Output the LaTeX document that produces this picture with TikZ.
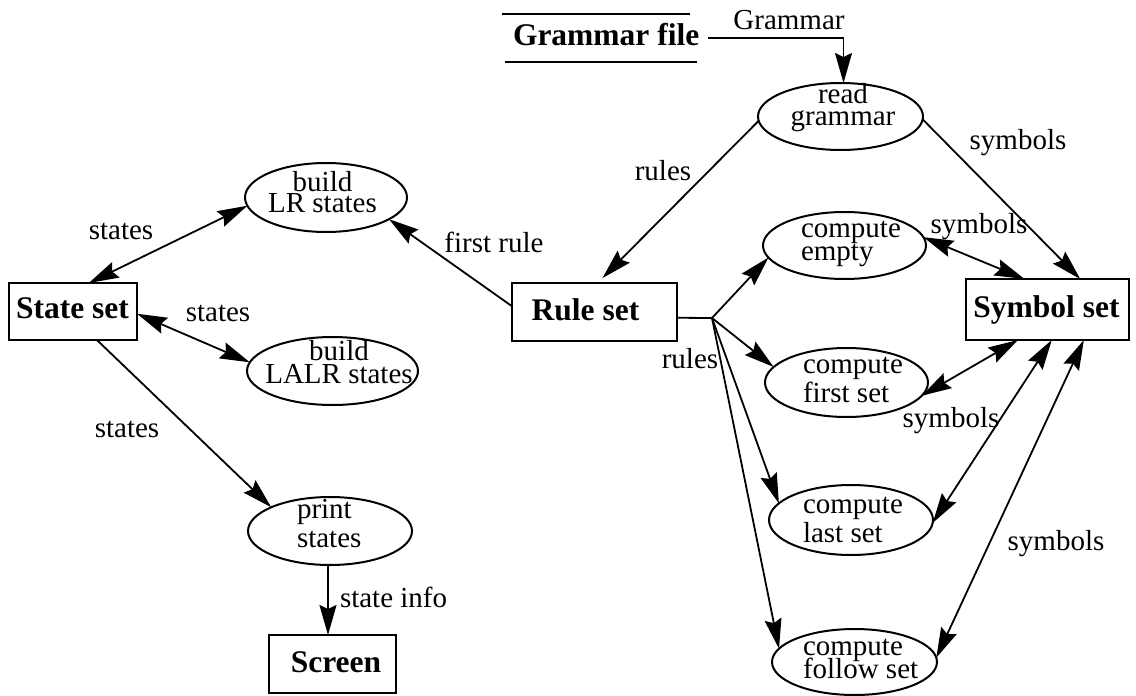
\documentclass[tikz,border=0pt]{standalone}
\usepackage{fontspec}
\setmainfont{Liberation Serif}
\usetikzlibrary{shapes.geometric,arrows.meta,calc}
\lineskiplimit=-20pt

\begin{document}
\begin{tikzpicture}[
  x=0.5pt, y=-0.5pt,
  every node/.style={inner sep=0pt, outer sep=0pt},
  proc/.style={ellipse, draw, line width=1pt},
  store/.style={rectangle, draw, line width=1pt},
  txt/.style={font=\fontsize{14.5pt}{11.5pt}\selectfont, anchor=base},
  ltxt/.style={txt, align=left, anchor=base west},
  ctxt/.style={txt, align=center},
  btxt/.style={font=\fontsize{15.75pt}{17pt}\selectfont\bfseries, anchor=base},
  tip/.tip={Stealth[length=15pt, width=8.5pt, inset=2pt]},
  flow/.style={line width=0.9pt, -tip},
  both/.style={line width=0.9pt, tip-tip}
]
\useasboundingbox (0,0) rectangle (1136,696);

% ---- grammar file (data source between two bars)
\node[btxt, anchor=base west] (gf) at (513,46) {Grammar file};
\draw[line width=1.4pt] ([shift={(-11,-32)}]gf.base west) -- ([shift={(177,-32)}]gf.base west);
\draw[line width=1.4pt] ([shift={(-8,16)}]gf.base west) -- ([shift={(184,16)}]gf.base west);

% ---- stores
\node[store, minimum width=64pt, minimum height=28.5pt] (ss) at (73,311.5) {};
\node[btxt] (ss-t) at (72.5,318) {State set};
\node[store, minimum width=82.5pt, minimum height=29pt] (rs) at (594.5,312) {};
\node[btxt] (rs-t) at (585.5,320) {Rule set};
\node[store, minimum width=81.5pt, minimum height=30.5pt] (sym) at (1047.5,309.5) {};
\node[btxt] (sym-t) at (1046.5,317) {Symbol set};
\node[store, minimum width=63.5pt, minimum height=29pt] (scr) at (332.5,664) {};
\node[btxt] (scr-t) at (336,672) {Screen};

% ---- processes (text anchored on the baseline of its last line)
\node[proc, minimum width=82.5pt, minimum height=33.5pt] (rg) at (840.5,116.5) {};
\node[ctxt] (rg-t) at (843,125) {read\\[-0.5pt]grammar};
\node[proc, minimum width=81pt, minimum height=34.5pt] (lr) at (326,197.5) {};
\node[ctxt] (lr-t) at (322.5,212) {build\\[-1pt]LR states};
\node[proc, minimum width=85.5pt, minimum height=34pt] (lalr) at (332.5,371) {};
\node[ctxt] (lalr-t) at (339,383) {build\\LALR states};
\node[proc, minimum width=81.5pt, minimum height=33.5pt] (ce) at (844.5,245.5) {};
\node[ltxt] (ce-t) at (801,260) {compute\\empty};
\node[proc, minimum width=81.5pt, minimum height=34.5pt] (cf) at (846.5,382.5) {};
\node[ltxt] (cf-t) at (803,402) {compute\\[2.8pt]first set};
\node[proc, minimum width=82pt, minimum height=35pt] (cl) at (851,520) {};
\node[ltxt] (cl-t) at (803,542) {compute\\[3pt]last set};
\node[proc, minimum width=82.5pt, minimum height=33pt] (cfo) at (854.5,662) {};
\node[ltxt] (cfo-t) at (803,678) {compute\\follow set};
\node[proc, minimum width=82pt, minimum height=34pt] (pr) at (330,531) {};
\node[ltxt] (pr-t) at (297,547) {print\\[3pt]states};

% ---- data flows
\draw[line width=0.8pt, -tip] ([shift={(9,-8)}]gf.base east) -| ([xshift=1.5pt]rg.north);
\node[txt] (l-gram) at (789,29) {Grammar};

\draw[both] (ss.61) -- (lr.186);
\node[txt] (l-st1) at (121,239) {states};
\draw[both] (ss.-2) -- (lalr.174);
\node[txt] (l-st2) at (218,321) {states};
\draw[flow] (ss.-50) -- (pr.158);
\node[txt] (l-st3) at (127,437) {states};
\draw[flow] ([xshift=-1pt]pr.south) -- ([xshift=-1pt]pr.south |- scr.north);
\node[txt, anchor=base west] (l-info) at (340,607) {state info};

\draw[flow] (rs.176) -- (lr.-19);
\node[txt] (l-first) at (494,252) {first rule};
\draw[flow, shorten >=3.5pt] (rg.183) -- (rs.84);
\node[txt] (l-rules1) at (663,180) {rules};
\draw[flow] (rg.-2) -- (sym.43);
\node[txt] (l-sym1) at (1018,149) {symbols};

\coordinate (br) at (712,318);
\draw[line width=0.9pt] (rs.-4) -- (br);
\draw[flow] (br) -- (ce.189);
\draw[flow] (br) -- (cf.168);
\draw[flow] (br) -- (cl.167);
\draw[flow] (br) -- (cfo.170);
\node[txt] (l-rules2) at (690,368) {rules};

\draw[both] (ce.6) -- (sym.127);
\node[txt] (l-sym2) at (979,233) {symbols};
\draw[both] (cf.-10) -- (sym.226);
\node[txt] (l-sym3) at (951,427) {symbols};
\draw[both] (cl.-2) -- (sym.-82);
\draw[both] (cfo.3) -- (sym.-40);
\node[txt] (l-sym4) at (1056,550) {symbols};
\end{tikzpicture}
\end{document}
